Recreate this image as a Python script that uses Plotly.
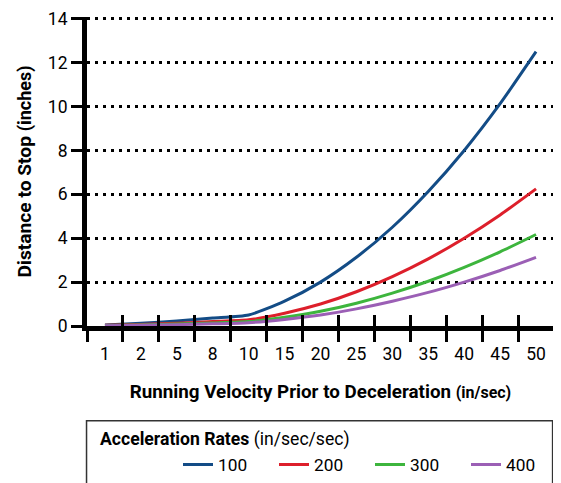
import plotly.graph_objects as go

# Running velocity categories (in/sec) and stopping distances (inches)
velocity = ["1", "2", "5", "8", "10", "15", "20", "25", "30", "35", "40", "45", "50"]
rate_labels = ["100", "200", "300", "400"]

dist_100 = [0.04, 0.12, 0.23, 0.36, 0.5, 1.13, 2.0, 3.13, 4.5, 6.13, 8.0, 10.13, 12.5]
dist_200 = [0.03, 0.07, 0.13, 0.2, 0.28, 0.58, 1.0, 1.56, 2.25, 3.06, 4.0, 5.06, 6.25]
dist_300 = [0.02, 0.05, 0.09, 0.14, 0.2, 0.4, 0.67, 1.04, 1.5, 2.04, 2.67, 3.38, 4.17]
dist_400 = [0.01, 0.03, 0.06, 0.1, 0.15, 0.3, 0.5, 0.78, 1.13, 1.53, 2.0, 2.53, 3.13]

series = [dist_100, dist_200, dist_300, dist_400]
colors = ["#134c86", "#dd1f2b", "#3db53d", "#9b5fb5"]

FONT = "Roboto, sans-serif"

fig = go.Figure()

for label, values, color in zip(rate_labels, series, colors):
    fig.add_trace(
        go.Scatter(
            x=velocity,
            y=values,
            name=label,
            mode="lines",
            line=dict(color=color, width=3, shape="spline", smoothing=0.6),
        )
    )

# invisible trace so the overlay axis knows the categories (for inward ticks)
fig.add_trace(
    go.Scatter(
        x=velocity,
        y=dist_100,
        xaxis="x2",
        mode="lines",
        line=dict(width=0),
        opacity=0,
        showlegend=False,
        hoverinfo="skip",
    )
)

cat_range = [-0.5, len(velocity) - 0.5]

fig.update_layout(
    width=554,
    height=475,
    margin=dict(l=79, r=0, t=9, b=152),
    paper_bgcolor="white",
    plot_bgcolor="white",
    font=dict(family=FONT, color="black", size=17),
    showlegend=True,
    xaxis=dict(
        type="category",
        range=cat_range,
        tickson="boundaries",
        ticks="outside",
        ticklen=11,
        tickwidth=3,
        tickcolor="black",
        showline=True,
        linecolor="black",
        linewidth=5,
        showgrid=False,
        tickfont=dict(size=17.5),
        ticklabelstandoff=8,
        title=dict(
            text="<b>Running Velocity Prior to Deceleration</b> "
            "<span style='font-size:16px'><b>(in/sec)</b></span>",
            font=dict(size=18.8),
            standoff=23,
        ),
    ),
    xaxis2=dict(
        type="category",
        range=cat_range,
        overlaying="x",
        side="bottom",
        tickson="boundaries",
        ticks="inside",
        ticklen=11,
        tickwidth=3,
        tickcolor="black",
        showticklabels=False,
        showline=False,
        showgrid=False,
    ),
    yaxis=dict(
        range=[0, 14.08],
        tickvals=[0, 2, 4, 6, 8, 10, 12, 14],
        ticks="outside",
        ticklen=11,
        tickwidth=3,
        tickcolor="black",
        ticklabeloverflow="allow",
        showline=True,
        linecolor="black",
        linewidth=5,
        showgrid=True,
        gridcolor="black",
        gridwidth=3,
        griddash="3px,5px",
        zeroline=False,
        tickfont=dict(size=17.5),
        title=dict(
            text="<b>Distance to Stop</b> <span style='font-size:18px'><b>(inches)</b></span>",
            font=dict(size=19.2),
            standoff=13,
        ),
    ),
    legend=dict(
        orientation="h",
        x=1.018,
        xanchor="right",
        y=-0.4494,
        yanchor="middle",
        font=dict(size=17.3),
        entrywidth=51,
        bgcolor="rgba(0,0,0,0)",
        borderwidth=0,
    ),
    shapes=[
        dict(
            type="rect",
            xref="paper",
            yref="paper",
            x0=-0.001,
            x1=0.997,
            y0=-0.307,
            y1=-0.7,
            line=dict(color="#333333", width=1.5),
            fillcolor="rgba(0,0,0,0)",
        )
    ],
    annotations=[
        dict(
            text="<b>Acceleration Rates</b> (in/sec/sec)",
            xref="paper",
            yref="paper",
            x=0.0244,
            y=-0.3685,
            xanchor="left",
            yanchor="middle",
            showarrow=False,
            font=dict(size=17.6),
        )
    ],
)

fig.write_html("out.html")
